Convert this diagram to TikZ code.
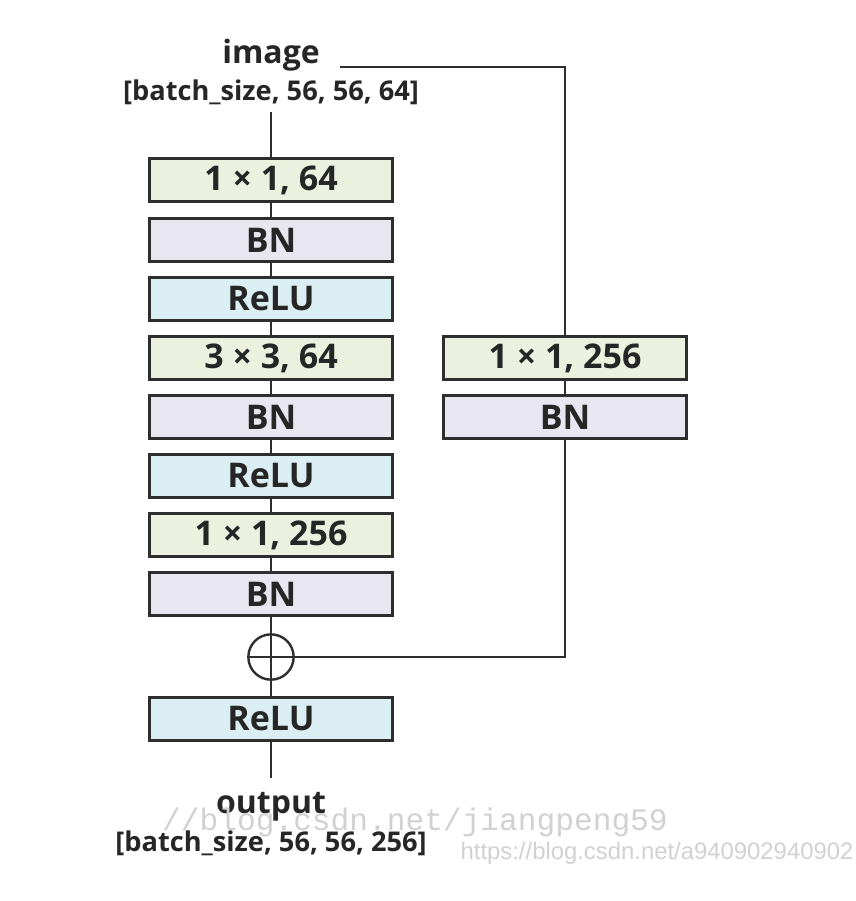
\documentclass[tikz,border=0pt]{standalone}
\usepackage{fontspec}
\setmainfont{Open Sans}
\newfontfamily\wmmono{Liberation Mono}
\newfontfamily\wmsans{Liberation Sans}
\definecolor{convgreen}{HTML}{EBF1DE}
\definecolor{bnpurple}{HTML}{E8E7F1}
\definecolor{relublue}{HTML}{DAEEF3}
\definecolor{edgegray}{HTML}{2E2E2E}
\tikzset{
  layer/.style={draw=edgegray, line width=1.8pt, minimum width=182pt, minimum height=32pt, inner sep=0pt, font=\fontsize{25.5}{28}\selectfont\bfseries, text=black!85},
  conv/.style={layer, fill=convgreen},
  bn/.style={layer, fill=bnpurple},
  relu/.style={layer, fill=relublue},
  lbl/.style={inner sep=0pt, font=\fontsize{24}{26}\selectfont\bfseries, text=black!85},
  dim/.style={inner sep=0pt, font=\fontsize{20.4}{22}\selectfont\bfseries, text=black!85},
  link/.style={draw=edgegray, line width=1.8pt},
  wmark/.style={inner sep=0pt, text=black!18}
}
\begin{document}
\begin{tikzpicture}[x=0.75pt, y=-0.75pt]
\useasboundingbox (0,0) rectangle (856,901);
% input
\node[lbl] (imgtxt) at (271,55) {image};
\node[dim] (imgdim) at (271,92) {[batch\_size, 56, 56, 64]};
\coordinate (in) at (271,112);
\coordinate (imgr) at (340,67);
\coordinate (skipc) at (565,67);
% main branch
\node[conv] (c1) at (271,180) {1 × 1, 64};
\node[bn] (bn1) at (271,240) {BN};
\node[relu] (r1) at (271,299) {ReLU};
\node[conv] (c2) at (271,358) {3 × 3, 64};
\node[bn] (bn2) at (271,417) {BN};
\node[relu] (r2) at (271,476) {ReLU};
\node[conv] (c3) at (271,535) {1 × 1, 256};
\node[bn] (bn3) at (271,594) {BN};
\node[circle, draw=edgegray, line width=1.8pt, minimum size=34pt, inner sep=0pt] (plus) at (271,657) {};
\node[relu] (r3) at (271,719) {ReLU};
\coordinate (out) at (271,778);
\node[lbl] (outtxt) at (271,807) {output};
\node[dim] (outdim) at (271,843) {[batch\_size, 56, 56, 256]};
% shortcut
\node[conv] (sc) at (565,358) {1 × 1, 256};
\node[bn] (sbn) at (565,417) {BN};
\coordinate (skipb) at (565,657);

\draw[link] (in)--(c1);
\draw[link] (c1)--(bn1);
\draw[link] (bn1)--(r1);
\draw[link] (r1)--(c2);
\draw[link] (c2)--(bn2);
\draw[link] (bn2)--(r2);
\draw[link] (r2)--(c3);
\draw[link] (c3)--(bn3);
\draw[link] (bn3)--(r3);
\draw[link] (plus.west)--(plus.east);
\draw[link] (r3)--(out);
\draw[link] (imgr)--(skipc)--(sc);
\draw[link] (sc)--(sbn);
\draw[link] (sbn)--(skipb)--(plus.east);

% watermarks
\node[wmark, font=\wmmono\fontsize{23.4}{24}\selectfont] (wm1) at (415,822) {//blog.csdn.net/jiangpeng59};
\node[wmark, font=\wmsans\fontsize{17.9}{19}\selectfont] (wm2) at (657,853) {https://blog.csdn.net/a940902940902};
\end{tikzpicture}
\end{document}
